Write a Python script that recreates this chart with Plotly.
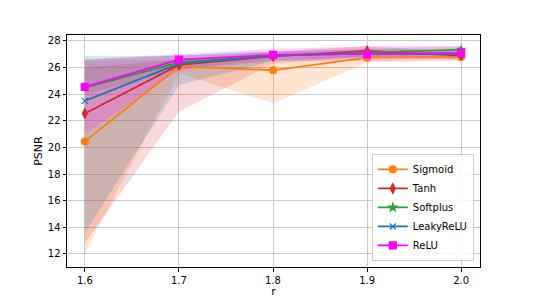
import plotly.graph_objects as go

r = [1.6, 1.7, 1.8, 1.9, 2.0]
names = ["Sigmoid", "Tanh", "Softplus", "LeakyReLU", "ReLU"]
colors = ["#ff7f0e", "#d62728", "#2ca02c", "#1f77b4", "#ff00ff"]
fills = ["rgba(255,127,14,0.2)", "rgba(214,39,40,0.18)", "rgba(44,160,44,0.2)",
         "rgba(31,119,180,0.2)", "rgba(255,0,255,0.2)"]
symbols = ["circle", "diamond-tall", "star", "x-thin", "square"]
msizes = [7, 7, 6, 6, 7]

mean = {
    "Sigmoid":   [20.45, 26.1, 25.8, 26.75, 26.8],
    "Tanh":      [22.55, 26.2, 26.85, 27.25, 26.9],
    "Softplus":  [24.5, 26.4, 26.9, 27.1, 27.35],
    "LeakyReLU": [23.5, 26.3, 26.9, 27.05, 27.0],
    "ReLU":      [24.55, 26.6, 26.95, 27.0, 27.1],
}
lower = {
    "Sigmoid":   [12.05, 25.6, 23.3, 26.4, 26.5],
    "Tanh":      [12.8, 22.7, 26.3, 26.8, 26.6],
    "Softplus":  [24.0, 25.9, 26.6, 26.8, 27.0],
    "LeakyReLU": [13.6, 24.7, 26.5, 26.8, 26.7],
    "ReLU":      [21.0, 25.8, 26.5, 26.5, 26.6],
}
upper = {
    "Sigmoid":   [26.5, 26.6, 26.6, 27.0, 27.0],
    "Tanh":      [26.0, 26.6, 27.2, 27.6, 27.2],
    "Softplus":  [26.9, 26.9, 27.2, 27.4, 27.6],
    "LeakyReLU": [26.6, 26.9, 27.2, 27.4, 27.3],
    "ReLU":      [26.6, 27.0, 27.4, 27.6, 27.6],
}

fig = go.Figure()
for n, f in zip(names, fills):
    fig.add_trace(go.Scatter(
        x=r + r[::-1], y=upper[n] + lower[n][::-1], fill="toself",
        fillcolor=f, line=dict(width=0), mode="lines",
        showlegend=False, hoverinfo="skip"))

for n, c, s, ms in zip(names, colors, symbols, msizes):
    fig.add_trace(go.Scatter(
        x=r, y=mean[n], name=n, mode="lines+markers",
        line=dict(color=c, width=1.8),
        marker=dict(symbol=s, size=ms, color=c, line=dict(color=c, width=1.2))))

axis_common = dict(showline=True, linecolor="black", linewidth=1, mirror=True,
                   ticks="outside", ticklen=3.5, tickcolor="black",
                   showgrid=True, gridcolor="#c8c8c8", gridwidth=1,
                   zeroline=False, automargin=False,
                   tickfont=dict(size=10, color="black"))

fig.update_layout(
    width=525, height=292,
    margin=dict(l=59, r=53, t=27, b=33),
    paper_bgcolor="white", plot_bgcolor="white",
    font=dict(family="DejaVu Sans", size=10, color="black"),
    xaxis=dict(range=[1.581, 2.02], tickvals=r, ticktext=["1.6", "1.7", "1.8", "1.9", "2.0"],
               title=dict(text="r", font=dict(size=11), standoff=2), **axis_common),
    yaxis=dict(range=[11.02, 28.45], tickvals=[12, 14, 16, 18, 20, 22, 24, 26, 28],
               title=dict(text="PSNR", font=dict(size=11), standoff=2), **axis_common),
    legend=dict(x=0.985, y=0.026, xanchor="right", yanchor="bottom",
                bgcolor="rgba(255,255,255,0.85)", bordercolor="#cccccc", borderwidth=1,
                font=dict(size=10), tracegroupgap=0, itemwidth=30),
    showlegend=True,
)

fig.write_html("out.html")
